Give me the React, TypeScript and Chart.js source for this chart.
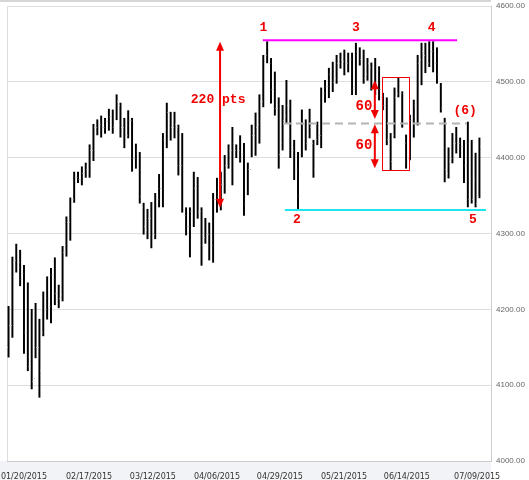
import React, { useEffect, useRef } from "react";
import { Chart, registerables } from "chart.js";

Chart.register(...registerables);

// ---- Daily OHLC data (index 0 = first bar on the left) ----
const highs = [
  4204, 4269, 4286, 4278, 4258, 4235, 4200, 4208, 4187, 4223,
  4243, 4254, 4268, 4232, 4283, 4322, 4347, 4381, 4381, 4388,
  4393, 4417, 4444, 4450, 4455, 4452, 4464, 4463, 4483, 4472,
  4452, 4462, 4452, 4418, 4407, 4340, 4332, 4341, 4353, 4378,
  4432, 4472, 4460, 4460, 4443, 4432, 4334, 4334, 4381, 4374,
  4334, 4320, 4314, 4353, 4373, 4381, 4403, 4417, 4440, 4417,
  4429, 4419, 4393, 4443, 4459, 4483, 4535, 4553, 4531, 4513,
  4479, 4469, 4502, 4476, 4423, 4407, 4463, 4450, 4464, 4423,
  4447, 4492, 4502, 4518, 4526, 4535, 4538, 4542, 4538, 4538,
  4551, 4545, 4542, 4531, 4525, 4531, 4520, 4485, 4479, 4432,
  4492, 4505, 4487, 4430, 4456, 4476, 4535, 4551, 4551, 4553,
  4553, 4545, 4498, 4452, 4413, 4432, 4440, 4426, 4423, 4447,
  4423, 4406, 4426,
];
const lows = [
  4137, 4163, 4249, 4231, 4142, 4119, 4095, 4136, 4084, 4165,
  4187, 4182, 4206, 4202, 4211, 4270, 4291, 4341, 4367, 4364,
  4374, 4374, 4396, 4430, 4427, 4432, 4436, 4432, 4450, 4427,
  4413, 4426, 4382, 4386, 4340, 4299, 4293, 4281, 4293, 4335,
  4335, 4413, 4423, 4426, 4377, 4328, 4298, 4269, 4309, 4320,
  4258, 4287, 4265, 4262, 4328, 4331, 4353, 4386, 4364, 4400,
  4394, 4324, 4351, 4401, 4403, 4419, 4467, 4525, 4472, 4456,
  4386, 4410, 4446, 4400, 4371, 4331, 4401, 4410, 4426, 4374,
  4417, 4413, 4473, 4479, 4487, 4498, 4518, 4509, 4513, 4483,
  4483, 4522, 4498, 4502, 4489, 4483, 4476, 4463, 4417, 4384,
  4426, 4480, 4440, 4386, 4397, 4427, 4443, 4496, 4512, 4520,
  4513, 4498, 4460, 4368, 4373, 4393, 4406, 4400, 4367, 4335,
  4340, 4335, 4347,
];
const opens = [
  4150, 4180, 4265, 4262, 4248, 4180, 4125, 4110, 4150, 4170,
  4200, 4205, 4240, 4225, 4220, 4275, 4315, 4345, 4375, 4370,
  4380, 4385, 4410, 4440, 4445, 4440, 4448, 4455, 4455, 4470,
  4440, 4430, 4450, 4400, 4405, 4335, 4305, 4320, 4300, 4345,
  4360, 4425, 4455, 4440, 4440, 4390, 4325, 4310, 4320, 4365,
  4330, 4295, 4300, 4285, 4345, 4350, 4365, 4390, 4410, 4410,
  4410, 4405, 4355, 4385, 4430, 4445, 4475, 4535, 4525, 4495,
  4465, 4420, 4455, 4470, 4410, 4385, 4405, 4440, 4430, 4420,
  4425, 4430, 4485, 4495, 4505, 4505, 4525, 4528, 4525, 4530,
  4495, 4540, 4530, 4510, 4520, 4500, 4515, 4480, 4470, 4420,
  4430, 4485, 4485, 4420, 4400, 4450, 4470, 4530, 4535, 4525,
  4540, 4525, 4495, 4440, 4380, 4400, 4420, 4420, 4415, 4420,
  4380, 4370, 4350,
];
const closes = [
  4180, 4262, 4262, 4240, 4170, 4125, 4105, 4150, 4120, 4200,
  4215, 4245, 4222, 4215, 4275, 4315, 4335, 4375, 4372, 4380,
  4385, 4410, 4440, 4445, 4440, 4448, 4455, 4440, 4475, 4440,
  4420, 4450, 4400, 4410, 4350, 4310, 4320, 4295, 4345, 4360,
  4425, 4460, 4440, 4445, 4390, 4330, 4310, 4330, 4360, 4330,
  4285, 4300, 4285, 4345, 4350, 4365, 4390, 4410, 4420, 4412,
  4400, 4340, 4385, 4430, 4440, 4475, 4525, 4540, 4490, 4465,
  4405, 4450, 4470, 4410, 4380, 4350, 4445, 4420, 4440, 4385,
  4430, 4485, 4495, 4510, 4500, 4525, 4530, 4522, 4530, 4490,
  4540, 4530, 4505, 4525, 4500, 4520, 4490, 4470, 4425, 4395,
  4480, 4490, 4445, 4395, 4450, 4470, 4525, 4540, 4520, 4545,
  4520, 4510, 4465, 4385, 4395, 4420, 4430, 4415, 4390, 4345,
  4345, 4340, 4415,
];

// ---- Axis ticks ----
const xTickLabels = [
  "01/20/2015", "02/17/2015", "03/12/2015", "04/06/2015",
  "04/29/2015", "05/21/2015", "06/14/2015", "07/09/2015",
];
const xTickIndex = [4.0, 20.85, 37.4, 54.0, 70.3, 86.9, 103.2, 121.4];
const yMin = 4000;
const yMax = 4600;
const yStep = 100;

// ---- Annotation levels (data coordinates) ----
const resistanceLevel = 4555;
const resistanceRange = [65.9, 116.2];
const supportLevel = 4331;
const supportRange = [71.6, 123.7];
const midLevel = 4445;
const midRange = [71.1, 118.8];
const rangeArrow = { x: 54.8, from: 4553, to: 4334, label: "220 pts", labelX: 54.3, labelY: 4476 };
const halfArrows = { x: 94.9, upper: [4502, 4451], lower: [4444, 4386], labelX: 92.1, labels: [4467, 4416], text: "60" };
const boxRange = { x0: 96.8, x1: 103.7, y0: 4506, y1: 4383 };
const pointLabels = [
  { text: "1", x: 66.0, y: 4572 },
  { text: "3", x: 90.0, y: 4572 },
  { text: "4", x: 109.6, y: 4572 },
  { text: "2", x: 74.7, y: 4318 },
  { text: "5", x: 120.3, y: 4318 },
  { text: "(6)", x: 118.3, y: 4462 },
];

const RED = "#f00000";

const bgPlugin = {
  id: "bgPlugin",
  beforeDraw(chart: any) {
    const { ctx, chartArea, width, height } = chart;
    ctx.save();
    ctx.fillStyle = "#ffffff";
    ctx.fillRect(0, 0, width, height);
    ctx.fillStyle = "#f1f3f6";
    ctx.fillRect(0, chartArea.bottom, chartArea.right, height - chartArea.bottom);
    ctx.fillStyle = "#d6d6d6";
    ctx.fillRect(0, 0, chartArea.right, 2);
    ctx.strokeStyle = "#dddddd";
    ctx.lineWidth = 1;
    ctx.beginPath();
    ctx.moveTo(chartArea.left + 0.5, chartArea.top);
    ctx.lineTo(chartArea.left + 0.5, chartArea.bottom);
    ctx.moveTo(chartArea.left, chartArea.top + 0.5);
    ctx.lineTo(chartArea.right, chartArea.top + 0.5);
    ctx.stroke();
    ctx.restore();
  },
};

const ohlcTicks = {
  id: "ohlcTicks",
  afterDatasetsDraw(chart: any) {
    const { ctx } = chart;
    const xs = chart.scales.x;
    const ys = chart.scales.y;
    ctx.save();
    ctx.strokeStyle = "#c4c4c4";
    ctx.lineWidth = 1;
    ctx.beginPath();
    for (let i = 0; i < opens.length; i++) {
      const px = xs.getPixelForValue(i);
      const po = Math.round(ys.getPixelForValue(opens[i])) + 0.5;
      const pc = Math.round(ys.getPixelForValue(closes[i])) + 0.5;
      ctx.moveTo(px - 1.8, po);
      ctx.lineTo(px - 0.7, po);
      ctx.moveTo(px + 0.7, pc);
      ctx.lineTo(px + 1.8, pc);
    }
    ctx.stroke();
    ctx.restore();
  },
};

function arrowHead(ctx: any, x: number, y: number, dir: number) {
  ctx.beginPath();
  ctx.moveTo(x, y);
  ctx.lineTo(x - 4, y - dir * 9);
  ctx.lineTo(x + 4, y - dir * 9);
  ctx.closePath();
  ctx.fill();
}

function vArrow(ctx: any, x: number, yTop: number, yBot: number) {
  ctx.beginPath();
  ctx.moveTo(x, yTop + 4);
  ctx.lineTo(x, yBot - 4);
  ctx.stroke();
  arrowHead(ctx, x, yTop, -1);
  arrowHead(ctx, x, yBot, 1);
}

const annotations = {
  id: "annotations",
  afterDatasetsDraw(chart: any) {
    const { ctx } = chart;
    const xs = chart.scales.x;
    const ys = chart.scales.y;
    const X = (v: number) => xs.getPixelForValue(v);
    const Y = (v: number) => ys.getPixelForValue(v);
    ctx.save();

    ctx.strokeStyle = "#b4b4b4";
    ctx.lineWidth = 2;
    ctx.setLineDash([8, 5]);
    ctx.beginPath();
    ctx.moveTo(X(midRange[0]), Y(midLevel));
    ctx.lineTo(X(midRange[1]), Y(midLevel));
    ctx.stroke();
    ctx.setLineDash([]);

    ctx.strokeStyle = "#ff00ff";
    ctx.lineWidth = 2;
    ctx.beginPath();
    ctx.moveTo(X(resistanceRange[0]), Y(resistanceLevel));
    ctx.lineTo(X(resistanceRange[1]), Y(resistanceLevel));
    ctx.stroke();

    ctx.strokeStyle = "#1ee6ee";
    ctx.beginPath();
    ctx.moveTo(X(supportRange[0]), Y(supportLevel));
    ctx.lineTo(X(supportRange[1]), Y(supportLevel));
    ctx.stroke();

    ctx.strokeStyle = RED;
    ctx.fillStyle = RED;
    ctx.lineWidth = 2;
    vArrow(ctx, X(rangeArrow.x), Y(rangeArrow.from), Y(rangeArrow.to));
    vArrow(ctx, X(halfArrows.x), Y(halfArrows.upper[0]), Y(halfArrows.upper[1]));
    vArrow(ctx, X(halfArrows.x), Y(halfArrows.lower[0]), Y(halfArrows.lower[1]));

    ctx.lineWidth = 1;
    ctx.strokeRect(
      Math.round(X(boxRange.x0)) + 0.5,
      Math.round(Y(boxRange.y0)) + 0.5,
      Math.round(X(boxRange.x1) - X(boxRange.x0)),
      Math.round(Y(boxRange.y1) - Y(boxRange.y0))
    );

    ctx.textAlign = "center";
    ctx.textBaseline = "middle";
    ctx.font = 'bold 13px "Liberation Mono", "DejaVu Sans Mono", monospace';
    ctx.fillText(rangeArrow.label, X(rangeArrow.labelX), Y(rangeArrow.labelY));
    ctx.font = 'bold 14px "Liberation Mono", "DejaVu Sans Mono", monospace';
    halfArrows.labels.forEach((v) => ctx.fillText(halfArrows.text, X(halfArrows.labelX), Y(v)));
    ctx.font = 'bold 13px "Liberation Mono", "DejaVu Sans Mono", monospace';
    pointLabels.forEach((p) => ctx.fillText(p.text, X(p.x), Y(p.y)));

    ctx.restore();
  },
};

export default function App() {
  const ref = useRef<HTMLCanvasElement | null>(null);

  useEffect(() => {
    if (!ref.current) return;
    const data = highs.map((h, i) => ({ x: i, y: [lows[i], h] }));
    const chart = new Chart(ref.current, {
      type: "bar",
      data: {
        datasets: [
          {
            data: data as any,
            backgroundColor: "#000000",
            borderWidth: 0,
            barThickness: 1.3,
            grouped: false,
          } as any,
        ],
      },
      options: {
        animation: false,
        responsive: false,
        maintainAspectRatio: false,
        layout: { padding: { left: 7, top: 6, right: 0, bottom: 0 } },
        plugins: {
          legend: { display: false },
          tooltip: { enabled: false },
        },
        scales: {
          x: {
            type: "linear",
            min: -0.4,
            max: 125,
            offset: false,
            afterBuildTicks: (s: any) => {
              s.ticks = xTickIndex.map((v) => ({ value: v }));
            },
            afterFit: (s: any) => {
              s.paddingLeft = 0;
              s.paddingRight = 0;
              s.height = 19;
            },
            ticks: {
              autoSkip: false,
              maxRotation: 0,
              minRotation: 0,
              padding: 3,
              color: "#333333",
              font: { family: "DejaVu Sans", size: 8 },
              callback: (_v: any, i: number) => xTickLabels[i] ?? "",
            },
            grid: { display: false },
            border: { display: true, color: "#cccccc" },
          },
          y: {
            position: "right",
            min: yMin,
            max: yMax,
            afterFit: (s: any) => {
              s.width = 38;
              s.paddingTop = 0;
              s.paddingBottom = 0;
            },
            ticks: {
              stepSize: yStep,
              padding: 5,
              color: "#666666",
              font: { family: "Liberation Sans", size: 8 },
              callback: (v: any) => Number(v).toFixed(2),
            },
            grid: { color: "#dedede", drawTicks: false },
            border: { display: true, color: "#cccccc" },
          },
        },
      } as any,
      plugins: [bgPlugin, ohlcTicks, annotations],
    });
    return () => chart.destroy();
  }, []);

  return (
    <div style={{ position: "fixed", left: 0, top: 0, width: 529, height: 480, background: "#fff" }}>
      <canvas ref={ref} width={529} height={480} style={{ display: "block", width: 529, height: 480 }} />
    </div>
  );
}
